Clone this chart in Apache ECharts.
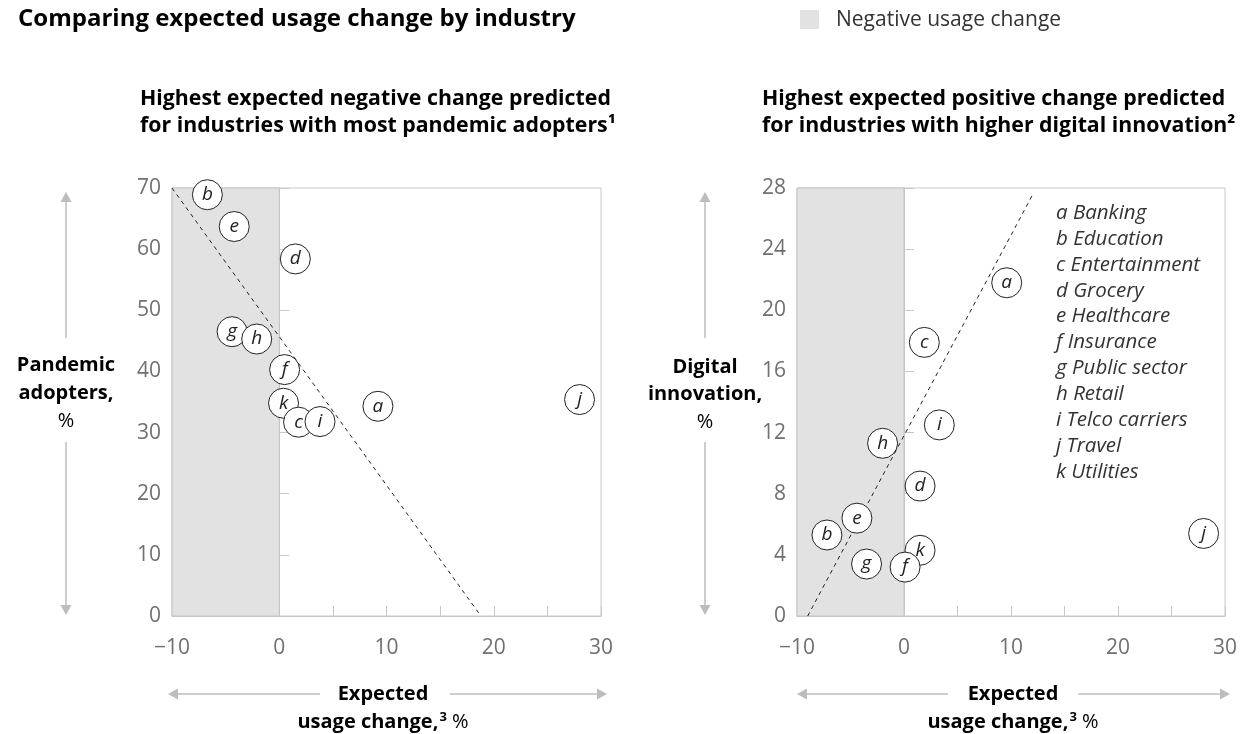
<!DOCTYPE html>
<html>
<head>
<meta charset="utf-8">
<script src="https://cdn.jsdelivr.net/npm/echarts@6/dist/echarts.min.js"></script>
<style>
html,body{margin:0;padding:0;background:#fff;}
#chart{width:1249px;height:734px;}
</style>
</head>
<body>
<div id="chart"></div>
<script>
// ---- data ----
var letters = ['a','b','c','d','e','f','g','h','i','j','k'];
var industries = ['Banking','Education','Entertainment','Grocery','Healthcare','Insurance','Public sector','Retail','Telco carriers','Travel','Utilities'];
// left chart: expected usage change (x) vs pandemic adopters (y)
var leftX = [9.2, -6.7, 1.8, 1.5, -4.2, 0.5, -4.4, -2.1, 3.8, 28.0, 0.4];
var leftY = [34.3, 68.9, 31.7, 58.4, 63.7, 40.3, 46.5, 45.3, 31.8, 35.4, 34.8];
// right chart: expected usage change (x) vs digital innovation (y)
var rightX = [9.6, -7.2, 1.9, 1.5, -4.4, 0.1, -3.5, -2.0, 3.3, 28.0, 1.5];
var rightY = [21.8, 5.3, 17.9, 8.5, 6.4, 3.2, 3.4, 11.3, 12.5, 5.4, 4.3];
// drawing order (later on top)
var drawOrder = ['a','b','d','e','g','h','j','k','c','f','i'];
// trend lines
var leftTrend = [[-10, 70], [18.8, 0]];
var rightTrend = [[-9.0, 0], [12.05, 27.6]];
// axis ranges / ticks
var xMin = -10, xMax = 30, xTick = 5, xLabelStep = 10;
var leftYMax = 70, leftYTick = 10;
var rightYMax = 28, rightYTick = 4;
var negRange = [-10, 0];

var FONT = 'Open Sans';
var GRID_TOP = 188, GRID_H = 428;

function pts(xs, ys) {
  return drawOrder.map(function (l) {
    var i = letters.indexOf(l);
    return { name: l, value: [xs[i], ys[i]] };
  });
}

function xAxisCfg(idx) {
  return {
    type: 'value', gridIndex: idx, min: xMin, max: xMax, interval: xTick,
    axisLine: { show: true, lineStyle: { color: '#c8c8c8' } },
    axisTick: { show: true, inside: true, length: 10, lineStyle: { color: '#c8c8c8' } },
    splitLine: { show: false },
    axisLabel: {
      margin: 22, fontSize: 21, color: '#707070', fontFamily: FONT,
      formatter: function (v) {
        if (v % xLabelStep !== 0) return '';
        return v < 0 ? '\u2212' + Math.abs(v) : String(v);
      }
    }
  };
}
function yAxisCfg(idx, max, tick) {
  return {
    type: 'value', gridIndex: idx, min: 0, max: max, interval: tick,
    axisLine: { show: true, lineStyle: { color: '#c8c8c8' } },
    axisTick: { show: true, inside: true, length: 10, lineStyle: { color: '#c8c8c8' } },
    splitLine: { show: false },
    axisLabel: { margin: 11, fontSize: 21, color: '#707070', fontFamily: FONT }
  };
}
function trendSeries(idx, data) {
  return {
    type: 'line', xAxisIndex: idx, yAxisIndex: idx, data: data,
    symbol: 'none', silent: true, z: 2,
    lineStyle: { color: '#222', width: 1, type: [4, 4] },
    markArea: {
      silent: true,
      itemStyle: { color: '#e2e2e2', borderColor: '#c4c4c4', borderWidth: 1 },
      data: [[{ xAxis: negRange[0] }, { xAxis: negRange[1] }]]
    }
  };
}
function scatterSeries(idx, data) {
  return {
    type: 'scatter', xAxisIndex: idx, yAxisIndex: idx, data: data,
    symbol: 'circle', symbolSize: 30, z: 4,
    itemStyle: { color: '#fff', borderColor: '#222', borderWidth: 1, opacity: 1 },
    label: {
      show: true, position: 'inside', formatter: '{b}',
      fontFamily: FONT, fontStyle: 'italic', fontSize: 19, color: '#222'
    }
  };
}

// graphic helpers
var G = [];
function txt(x, y, s, o) {
  o = o || {};
  G.push({
    type: 'text', x: x, y: y, silent: true,
    style: {
      text: s, fontFamily: FONT, fontSize: o.size || 18, fontWeight: o.weight || 'normal',
      fontStyle: o.style || 'normal', fill: o.color || '#111',
      align: o.align || 'left', verticalAlign: 'middle'
    }
  });
}
var AC = '#bdbdbd';
function vArrow(x, y1, y2, y3, y4) {
  G.push({ type: 'line', silent: true, shape: { x1: x, y1: y1 + 8, x2: x, y2: y2 }, style: { stroke: AC, lineWidth: 1.5 } });
  G.push({ type: 'line', silent: true, shape: { x1: x, y1: y3, x2: x, y2: y4 - 8 }, style: { stroke: AC, lineWidth: 1.5 } });
  G.push({ type: 'polygon', silent: true, shape: { points: [[x, y1], [x - 5.5, y1 + 10], [x + 5.5, y1 + 10]] }, style: { fill: AC } });
  G.push({ type: 'polygon', silent: true, shape: { points: [[x, y4], [x - 5.5, y4 - 10], [x + 5.5, y4 - 10]] }, style: { fill: AC } });
}
function hArrow(y, x1, x2, x3, x4) {
  G.push({ type: 'line', silent: true, shape: { x1: x1 + 8, y1: y, x2: x2, y2: y }, style: { stroke: AC, lineWidth: 1.5 } });
  G.push({ type: 'line', silent: true, shape: { x1: x3, y1: y, x2: x4 - 8, y2: y }, style: { stroke: AC, lineWidth: 1.5 } });
  G.push({ type: 'polygon', silent: true, shape: { points: [[x1, y], [x1 + 10, y - 5.5], [x1 + 10, y + 5.5]] }, style: { fill: AC } });
  G.push({ type: 'polygon', silent: true, shape: { points: [[x4, y], [x4 - 10, y - 5.5], [x4 - 10, y + 5.5]] }, style: { fill: AC } });
}

// title + legend
txt(18, 19, 'Comparing expected usage change by industry', { size: 24, weight: 'bold', color: '#000' });
G.push({ type: 'rect', silent: true, shape: { x: 800, y: 10, width: 19, height: 19 }, style: { fill: '#e2e2e2' } });
txt(836, 20, 'Negative usage change', { size: 21, color: '#333' });

// subtitles
txt(140, 99, 'Highest expected negative change predicted', { size: 21.3, weight: 'bold', color: '#000' });
txt(140, 126, 'for industries with most pandemic adopters\u00B9', { size: 21.3, weight: 'bold', color: '#000' });
txt(762, 99, 'Highest expected positive change predicted', { size: 21.3, weight: 'bold', color: '#000' });
txt(762, 126, 'for industries with higher digital innovation\u00B2', { size: 21.3, weight: 'bold', color: '#000' });

// y titles
vArrow(66, 192, 338, 442, 615);
txt(66, 365, 'Pandemic', { size: 20, weight: 'bold', color: '#000', align: 'center' });
txt(66, 393, 'adopters,', { size: 20, weight: 'bold', color: '#000', align: 'center' });
txt(66, 421, '%', { size: 20, color: '#000', align: 'center' });
vArrow(705, 192, 338, 442, 615);
txt(705, 367, 'Digital', { size: 20, weight: 'bold', color: '#000', align: 'center' });
txt(705, 394, 'innovation,', { size: 20, weight: 'bold', color: '#000', align: 'center' });
txt(705, 422, '%', { size: 20, color: '#000', align: 'center' });

// x titles
function xTitle(cx) {
  txt(cx, 694, 'Expected', { size: 20, weight: 'bold', color: '#000', align: 'center' });
  G.push({ type: 'text', x: cx, y: 722, silent: true, style: {
    text: '{b|usage change,}{s|3}{n| %}', align: 'center', verticalAlign: 'middle',
    rich: { b: { fontFamily: FONT, fontSize: 20, fontWeight: 'bold', fill: '#000' },
            s: { fontFamily: FONT, fontSize: 13, fontWeight: 'bold', fill: '#000', verticalAlign: 'top', padding: [0, 0, 9, 1] },
            n: { fontFamily: FONT, fontSize: 20, fill: '#000' } } } });
}
hArrow(694, 168, 320, 450, 607);
xTitle(383);
hArrow(694, 797, 948, 1078, 1230);
xTitle(1013);

// letter legend inside right plot
letters.forEach(function (l, i) {
  txt(1056, 213 + i * 25.9, l + ' ' + industries[i], { size: 20.5, style: 'italic', color: '#333' });
});

var chart = echarts.init(document.getElementById('chart'), null, { renderer: 'canvas' });
chart.setOption({
  animation: false,
  backgroundColor: '#fff',
  grid: [
    { left: 172, top: GRID_TOP, width: 429, height: GRID_H, show: true, borderColor: '#c8c8c8', borderWidth: 1, backgroundColor: 'transparent' },
    { left: 797, top: GRID_TOP, width: 428, height: GRID_H, show: true, borderColor: '#c8c8c8', borderWidth: 1, backgroundColor: 'transparent' }
  ],
  xAxis: [xAxisCfg(0), xAxisCfg(1)],
  yAxis: [yAxisCfg(0, leftYMax, leftYTick), yAxisCfg(1, rightYMax, rightYTick)],
  series: [
    trendSeries(0, leftTrend),
    scatterSeries(0, pts(leftX, leftY)),
    trendSeries(1, rightTrend),
    scatterSeries(1, pts(rightX, rightY))
  ],
  graphic: G
});
</script>
</body>
</html>
